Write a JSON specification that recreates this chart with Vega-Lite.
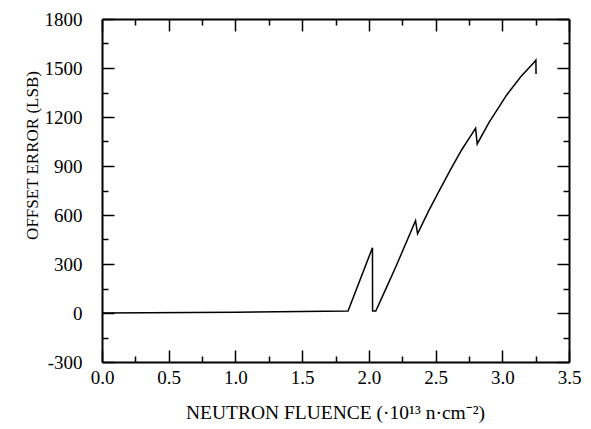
{
  "$schema": "https://vega.github.io/schema/vega-lite/v6.json",
  "autosize": "none",
  "padding": {"left": 102, "top": 19, "right": 22, "bottom": 67},
  "width": 467,
  "height": 343,
  "background": "white",
  "config": {
    "view": {"stroke": null},
    "axis": {
      "labelFont": "Liberation Serif",
      "titleFont": "Liberation Serif",
      "labelFontSize": 19,
      "titleFontSize": 17,
      "titleFontWeight": "normal",
      "labelColor": "black",
      "titleColor": "black",
      "domainColor": "black",
      "domainWidth": 2,
      "tickColor": "black",
      "tickWidth": 1.5,
      "grid": false,
      "labelFlush": false,
      "labelOverlap": false
    }
  },
  "data": {
    "values": [
      {"i": 0, "fluence": 0.0, "offset": 0},
      {"i": 1, "fluence": 1.0, "offset": 5},
      {"i": 2, "fluence": 1.844, "offset": 12},
      {"i": 3, "fluence": 2.027, "offset": 400},
      {"i": 4, "fluence": 2.028, "offset": 12},
      {"i": 5, "fluence": 2.052, "offset": 12},
      {"i": 6, "fluence": 2.13, "offset": 152},
      {"i": 7, "fluence": 2.207, "offset": 292},
      {"i": 8, "fluence": 2.28, "offset": 432},
      {"i": 9, "fluence": 2.35, "offset": 565},
      {"i": 10, "fluence": 2.365, "offset": 485},
      {"i": 11, "fluence": 2.45, "offset": 628},
      {"i": 12, "fluence": 2.532, "offset": 755},
      {"i": 13, "fluence": 2.61, "offset": 875},
      {"i": 14, "fluence": 2.695, "offset": 998},
      {"i": 15, "fluence": 2.75, "offset": 1068},
      {"i": 16, "fluence": 2.8, "offset": 1131},
      {"i": 17, "fluence": 2.812, "offset": 1035},
      {"i": 18, "fluence": 2.9, "offset": 1165},
      {"i": 19, "fluence": 3.033, "offset": 1335},
      {"i": 20, "fluence": 3.14, "offset": 1448},
      {"i": 21, "fluence": 3.232, "offset": 1529},
      {"i": 22, "fluence": 3.252, "offset": 1549},
      {"i": 23, "fluence": 3.253, "offset": 1463}
    ]
  },
  "resolve": {"axis": {"x": "independent", "y": "independent"}},
  "layer": [
    {
      "mark": {"type": "line", "color": "black", "strokeWidth": 1.5},
      "encoding": {
        "order": {"field": "i", "type": "quantitative"},
        "x": {
          "field": "fluence", "type": "quantitative",
          "scale": {"domain": [0, 3.5], "nice": false, "zero": false},
          "axis": {
            "orient": "bottom",
            "title": "NEUTRON FLUENCE (·10¹³ n·cm⁻²)",
            "titleFontSize": 19.5,
            "values": [0, 0.25, 0.5, 0.75, 1, 1.25, 1.5, 1.75, 2, 2.25, 2.5, 2.75, 3, 3.25, 3.5],
            "labelExpr": "datum.value % 0.5 === 0 ? format(datum.value, '.1f') : ''",
            "tickSize": {"condition": {"test": "datum.value % 0.5 !== 0", "value": -6}, "value": -12},
            "labelPadding": 18,
            "labelBaseline": "top",
            "titleBaseline": "alphabetic",
            "titleY": 56,
            "titleX": 233
          }
        },
        "y": {
          "field": "offset", "type": "quantitative",
          "scale": {"domain": [-300, 1800], "nice": false, "zero": false},
          "axis": {
            "orient": "left",
            "title": "OFFSET ERROR (LSB)",
            "values": [-300, -150, 0, 150, 300, 450, 600, 750, 900, 1050, 1200, 1350, 1500, 1650, 1800],
            "labelExpr": "datum.value % 300 === 0 ? ('' + datum.value) : ''",
            "tickSize": {"condition": {"test": "datum.value % 300 !== 0", "value": -6}, "value": -12},
            "labelPadding": 32,
            "titleBaseline": "middle",
            "titleAlign": "center",
            "titleAngle": -90,
            "titleX": -70,
            "titleY": 136
          }
        }
      }
    },
    {
      "mark": {"type": "line", "opacity": 0},
      "encoding": {
        "order": {"field": "i", "type": "quantitative"},
        "x": {
          "field": "fluence", "type": "quantitative",
          "axis": {
            "orient": "top",
            "title": null,
            "labels": false,
            "values": [0, 0.25, 0.5, 0.75, 1, 1.25, 1.5, 1.75, 2, 2.25, 2.5, 2.75, 3, 3.25, 3.5],
            "tickSize": {"condition": {"test": "datum.value % 0.5 !== 0", "value": -6}, "value": -12}
          }
        },
        "y": {
          "field": "offset", "type": "quantitative",
          "axis": {
            "orient": "right",
            "title": null,
            "labels": false,
            "values": [-300, -150, 0, 150, 300, 450, 600, 750, 900, 1050, 1200, 1350, 1500, 1650, 1800],
            "tickSize": {"condition": {"test": "datum.value % 300 !== 0", "value": -6}, "value": -12}
          }
        }
      }
    }
  ]
}
